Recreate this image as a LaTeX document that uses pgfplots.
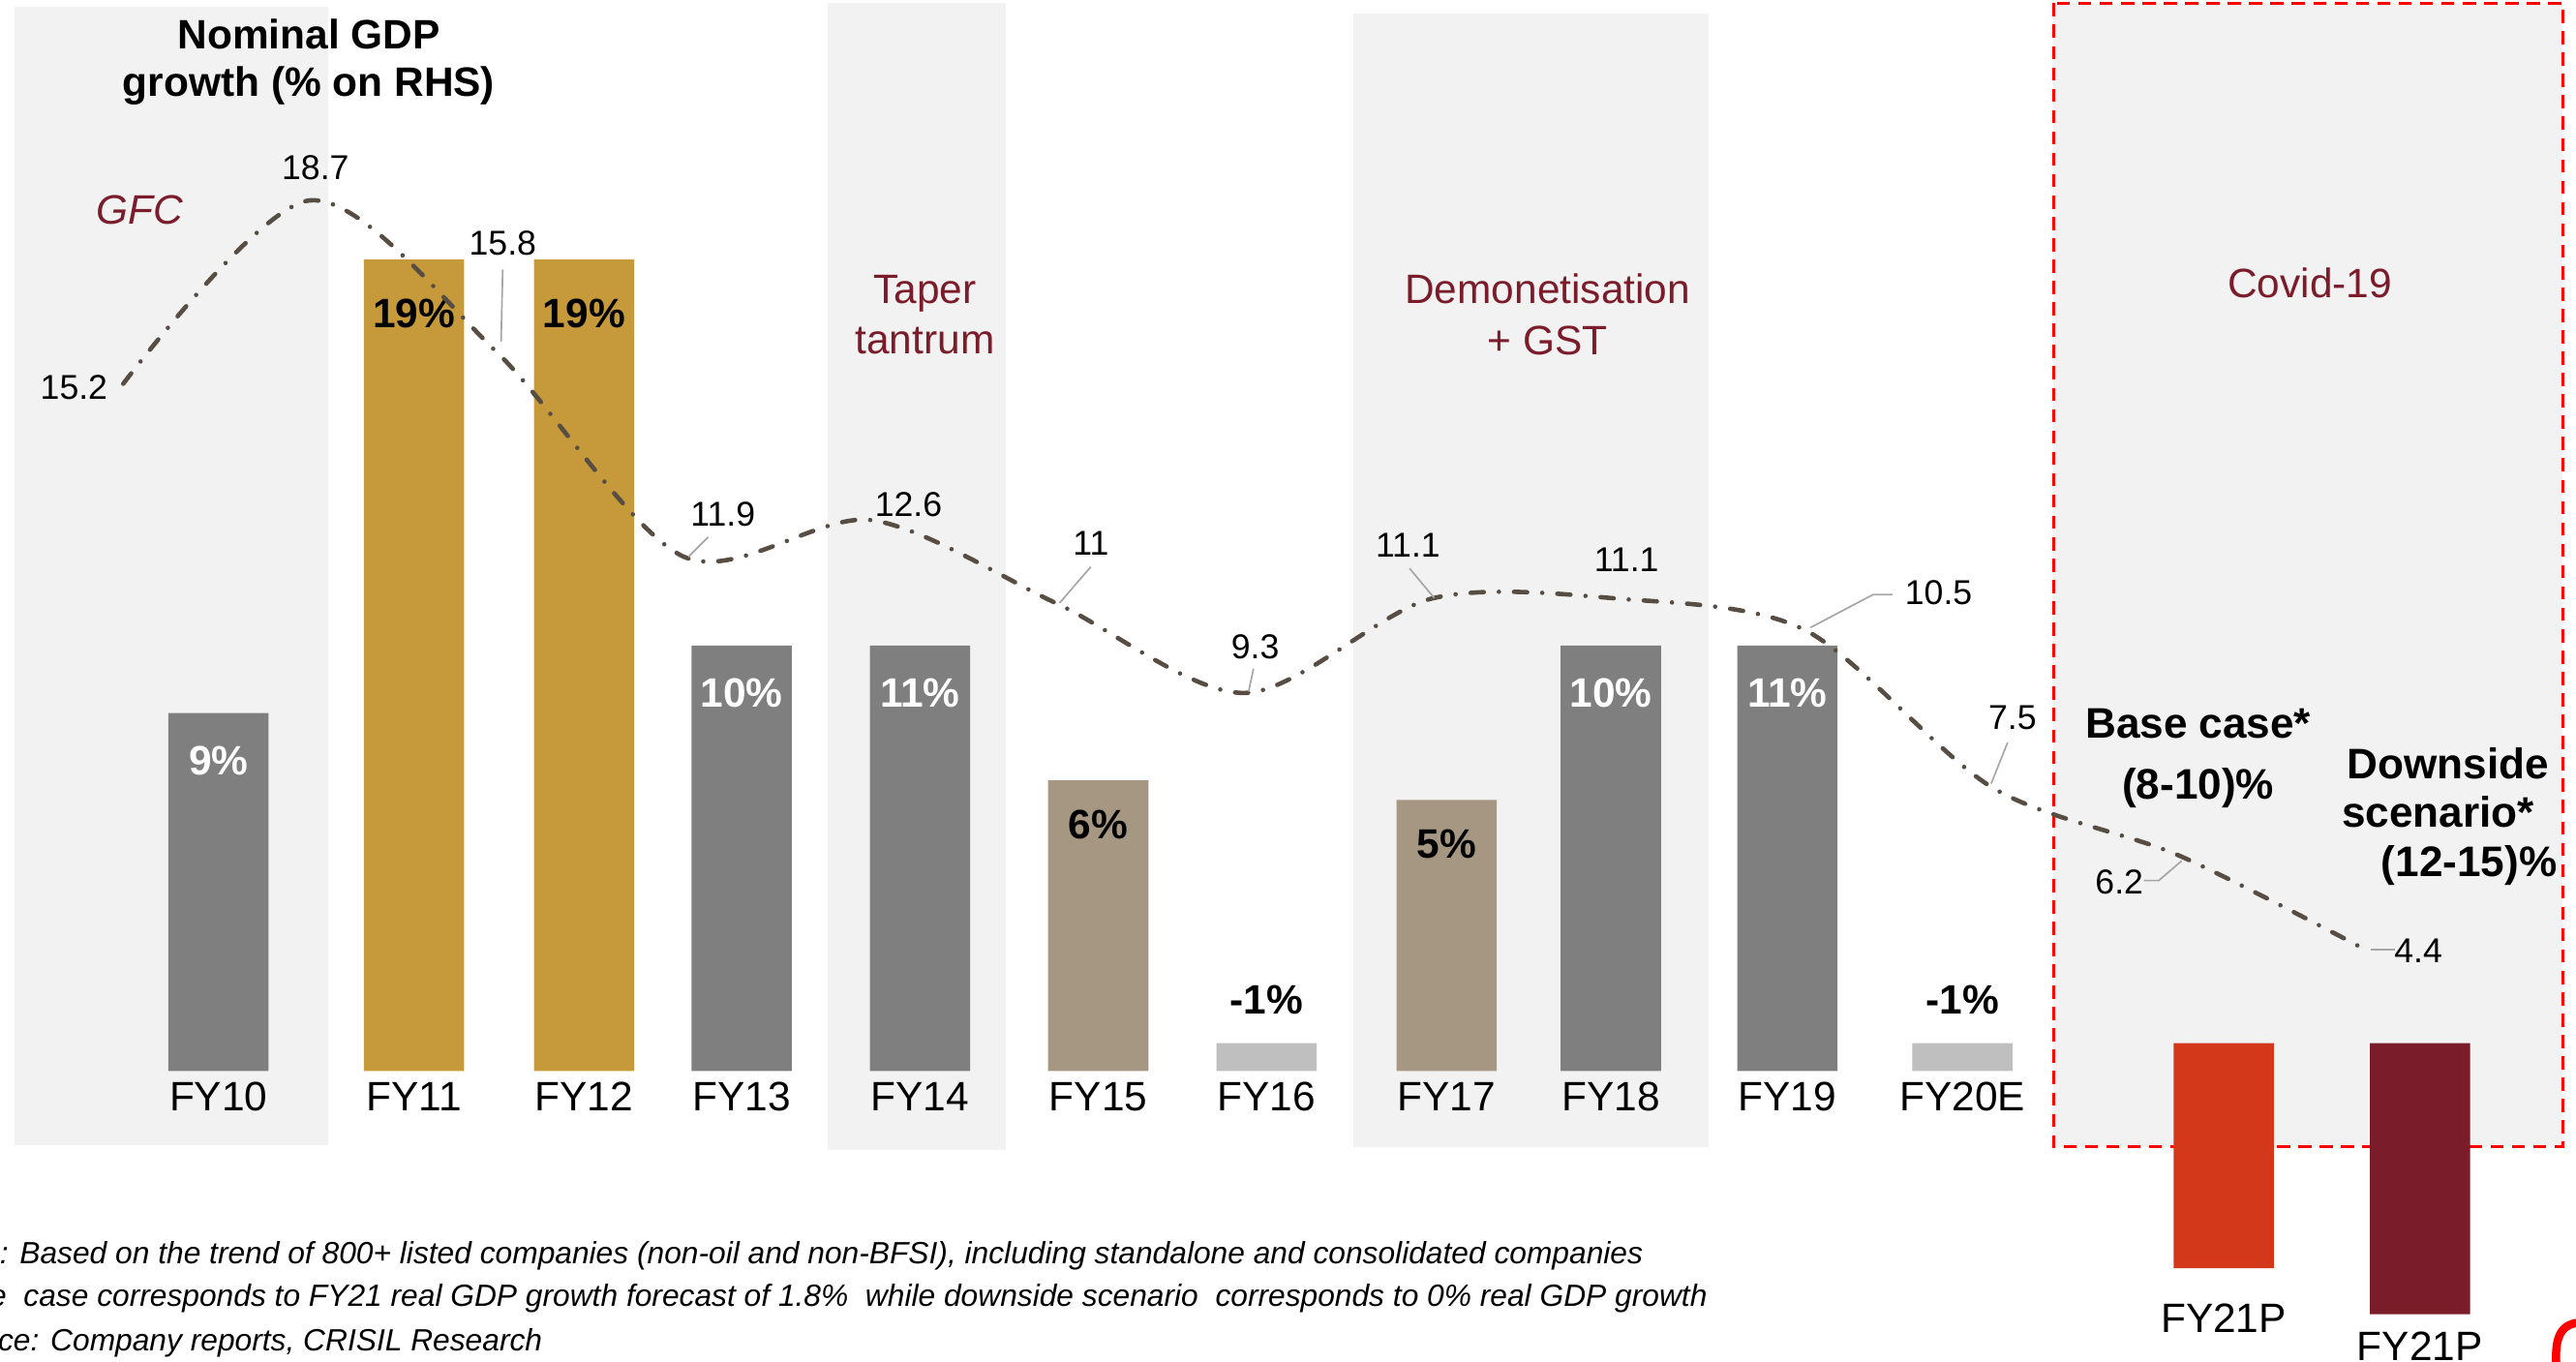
\documentclass[border=0pt]{standalone}
\usepackage{pgfplots}
\pgfplotsset{compat=1.18}
\usepackage{fontspec}
\setmainfont{Liberation Sans}

\definecolor{barGray}{HTML}{7F7F7F}
\definecolor{barGold}{HTML}{C69A3A}
\definecolor{barTaupe}{HTML}{A69782}
\definecolor{barLight}{HTML}{BFBFBF}
\definecolor{baseRed}{HTML}{D4381A}
\definecolor{downRed}{HTML}{7A1C2A}
\definecolor{boxGray}{HTML}{F2F2F2}
\definecolor{maroon}{HTML}{7B1C2A}
\definecolor{lineCol}{HTML}{574D43}
\definecolor{leader}{HTML}{A6A6A6}

% size, baselineskip
\newcommand\fs[2]{\fontsize{#1}{#2}\selectfont}

% every axis shares one frame: 1568 x 829 units, 1 unit = 0.5pt
\pgfplotsset{
  frame/.style={at={(0,0)}, anchor=south west, scale only axis,
    width=784pt, height=414.5pt, clip=false},
  pix/.style={frame, xmin=0, xmax=1568, ymin=0, ymax=829, y dir=reverse, hide axis},
}

\begin{document}
\begin{tikzpicture}
\useasboundingbox (0,0) rectangle (784pt,414.5pt);

% period shading
\begin{axis}[pix]
  \fill[boxGray] (9,4) rectangle (200,697);
  \fill[boxGray] (504,2) rectangle (612,700);
  \fill[boxGray] (824,8) rectangle (1040,698);
  \fill[boxGray] (1250,2) rectangle (1560,698);
  \draw[red, line width=1pt, dash pattern=on 4pt off 2.5pt] (1250,2) rectangle (1560,698);
\end{axis}

% corporate growth bars (heights as drawn)
\begin{axis}[frame,
    xmin=0, xmax=1568, ymin=-177, ymax=652,
    ybar, bar shift=0pt, bar width=30.5pt,
    axis line style={draw=none}, major tick length=0pt, ytick=\empty,
    xtick={133,252,355.5,451.5,560,668.5,771,880.5,980.5,1088,1194.5,1353.5,1473},
    xticklabels={FY10,FY11,FY12,FY13,FY14,FY15,FY16,FY17,FY18,FY19,FY20E,
      \raisebox{-67.5pt}{FY21P},\raisebox{-76pt}{FY21P}},
    xticklabel style={anchor=base, yshift=76.5pt, font=\fs{12.5pt}{15pt}},
    point meta=explicit symbolic,
  ]
  \addplot[fill=barGray, draw=none, nodes near coords,
    every node near coord/.append style={anchor=center, yshift=-14.5pt, white, font=\fs{12.5pt}{15pt}\bfseries}]
    coordinates {(133,218) [9\%] (451.5,259) [10\%] (560,259) [11\%] (980.5,259) [10\%] (1088,259) [11\%]};
  \addplot[fill=barGold, draw=none, nodes near coords,
    every node near coord/.append style={anchor=center, yshift=-16.5pt, black, font=\fs{12.5pt}{15pt}\bfseries}]
    coordinates {(252,494) [19\%] (355.5,494) [19\%]};
  \addplot[fill=barTaupe, draw=none, nodes near coords,
    every node near coord/.append style={anchor=center, yshift=-13.5pt, black, font=\fs{12.5pt}{15pt}\bfseries}]
    coordinates {(668.5,177) [6\%] (880.5,165) [5\%]};
  \addplot[fill=barLight, draw=none, nodes near coords,
    every node near coord/.append style={anchor=center, yshift=13.2pt, black, font=\fs{12.5pt}{15pt}\bfseries}]
    coordinates {(771,17) [-1\%] (1194.5,17) [-1\%]};
  \addplot[fill=baseRed, draw=none] coordinates {(1353.5,17) (1353.5,-120)};
  \addplot[fill=downRed, draw=none] coordinates {(1473,17) (1473,-148)};
\end{axis}

% nominal GDP growth, % (right-hand scale)
\begin{axis}[frame, xmin=-0.6593, xmax=13.1253, ymin=-3.463, ymax=22.524, hide axis]
  \addplot[smooth, no markers, color=lineCol, line width=1.35pt, line cap=round,
    dash pattern=on 4pt off 4.6pt on 0pt off 4.6pt]
    coordinates {(0,15.2) (1,18.7) (2,15.8) (3,11.9) (4,12.6) (5,11) (6,9.3)
      (7,11.1) (8,11.1) (9,10.5) (10,7.5) (11,6.2) (12,4.4)};
\end{axis}

% annotations
\begin{axis}[pix]
  \node[font=\fs{12.5pt}{14.5pt}\bfseries, align=center] at (188,38) {Nominal GDP\\growth (\% on RHS)};
  \node[font=\fs{12.5pt}{15pt}\itshape, text=maroon] at (85,128) {GFC};
  \node[font=\fs{12.5pt}{15.5pt}, text=maroon, align=center] at (563,191.5) {Taper\\tantrum};
  \node[font=\fs{12.5pt}{15.5pt}, text=maroon, align=center] at (942,191.5) {Demonetisation\\+ GST};
  \node[font=\fs{12.5pt}{15pt}, text=maroon] at (1406,172) {Covid-19};
  \node[font=\fs{13pt}{18.5pt}\bfseries, align=center] at (1338,461.5) {Base case*\\(8-10)\%};
  \node[font=\fs{13pt}{15pt}\bfseries] at (1490,465) {Downside};
  \node[font=\fs{13pt}{15pt}\bfseries] at (1484,494) {scenario*};
  \node[font=\fs{13pt}{15pt}\bfseries] at (1503,527) {(12-15)\%};

  \begin{scope}[font=\fs{10.5pt}{12pt}]
    \node at (45,236) {15.2};
    \node at (192,102) {18.7};
    \node at (306,148) {15.8};
    \node at (440,313) {11.9};
    \node at (553,307) {12.6};
    \node at (664,331) {11};
    \node at (764,394) {9.3};
    \node at (857,332) {11.1};
    \node at (990,341) {11.1};
    \node at (1180,361) {10.5};
    \node at (1225,437) {7.5};
    \node at (1290,537) {6.2};
    \node at (1472,579) {4.4};
  \end{scope}
  \begin{scope}[leader, line width=0.5pt]
    \draw (306,164) -- (305,208);
    \draw (419,339) -- (431,327);
    \draw (645,367) -- (664,345);
    \draw (760,421) -- (763,407);
    \draw (873,364) -- (858,346);
    \draw (1102,382) -- (1140,362) -- (1152,362);
    \draw (1212,477) -- (1222,452);
    \draw (1305,536) -- (1314,536) -- (1328,524);
    \draw (1443,578) -- (1458,578);
  \end{scope}

  \begin{scope}[font=\fs{9.35pt}{11pt}\itshape]
    \node[anchor=base west, inner sep=0pt] at (-40,769) {Note: Based on the trend of 800+ listed companies (non-oil and non-BFSI), including standalone and consolidated companies};
    \node[anchor=base west, inner sep=0pt] at (-39,795) {Base~ case corresponds to FY21 real GDP growth forecast of 1.8\%~ while downside scenario~ corresponds to 0\% real GDP growth};
    \node[anchor=base west, inner sep=0pt] at (-41,822) {Source: Company reports, CRISIL Research};
  \end{scope}
  \draw[color=red, line width=2.5pt] (1572,805) .. controls (1558,805) and (1555,815) .. (1556,831);
\end{axis}
\end{tikzpicture}
\end{document}
